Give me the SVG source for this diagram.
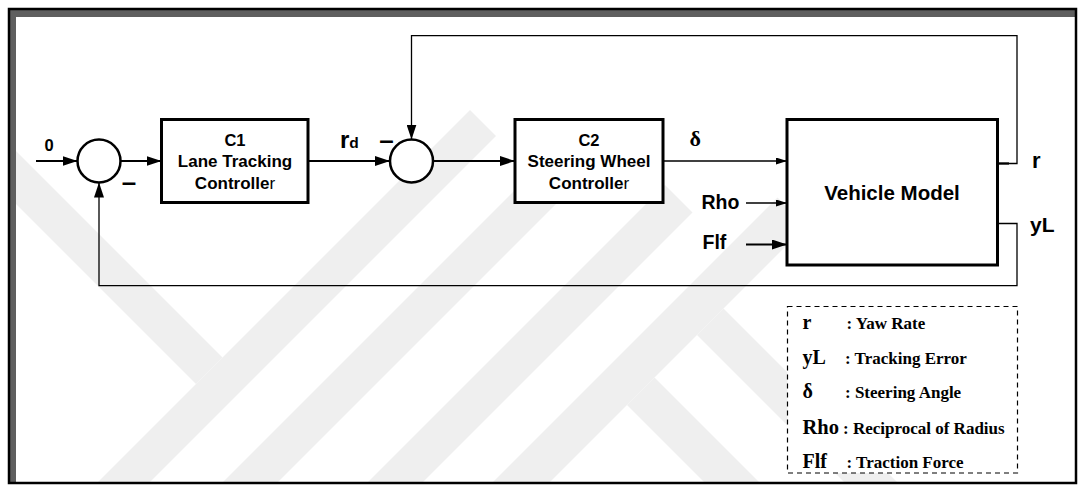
<svg xmlns="http://www.w3.org/2000/svg" width="1080" height="485" viewBox="0 0 1080 485">
<style>
.sans{font-family:"Liberation Sans",Arial,sans-serif;font-weight:bold;fill:#000}
.serif{font-family:"Liberation Serif","Times New Roman",serif;font-weight:bold;fill:#000}
.box{fill:#fff;stroke:#000;stroke-width:3}
.sum{fill:#fff;stroke:#000;stroke-width:2.5}
.wire{fill:none;stroke:#000;stroke-width:2}
.thin{fill:none;stroke:#000;stroke-width:1.3}
.wm{fill:#efefef}
</style>
<defs>
<marker id="ah" markerUnits="userSpaceOnUse" markerWidth="15" markerHeight="10" refX="15" refY="5" orient="auto">
<path d="M0,0 L15,5 L0,10 z" fill="#000"/>
</marker>
<marker id="as" markerUnits="userSpaceOnUse" markerWidth="11" markerHeight="7" refX="11" refY="3.5" orient="auto">
<path d="M0,0 L11,3.5 L0,7 z" fill="#000"/>
</marker>
<clipPath id="inner"><rect x="16" y="17" width="1059" height="465"/></clipPath>
</defs>
<rect x="0" y="0" width="1080" height="485" fill="#fff"/>
<g id="watermark" clip-path="url(#inner)">
<polygon class="wm" points="16,151 222.5,357.5 196,384 16,204"/>
<polygon class="wm" points="470,110 496,136 147,485 95,485"/>
<polygon class="wm" points="552.5,152.5 580,180 275,485 220,485"/>
<polygon class="wm" points="665,185 692.5,212.5 420,485 365,485"/>
<polygon class="wm" points="777.5,197.5 806,226 547,485 490,485"/>
<polygon class="wm" points="654.5,377.5 762,485 707,485 627,405"/>
<polygon class="wm" points="723.5,308.5 900,485 847,485 697,335"/>
</g>
<g id="frame">
<polygon points="9,9 1076,9 1076,17 16,17 16,483 9,483" fill="#5f5f5f"/>
<rect x="9" y="9" width="1067" height="474" fill="none" stroke="#000" stroke-width="2.5"/>
</g>
<g id="connectors">
<line class="wire" x1="36" y1="161" x2="77.5" y2="161" marker-end="url(#ah)"/>
<line class="wire" x1="121" y1="161" x2="161.5" y2="161" marker-end="url(#ah)"/>
<line class="wire" x1="308" y1="161" x2="390" y2="161" marker-end="url(#ah)"/>
<line class="wire" x1="433" y1="161" x2="515" y2="161" marker-end="url(#ah)"/>
<line class="thin" x1="663" y1="161" x2="787" y2="161" marker-end="url(#as)"/>
<line class="thin" x1="746" y1="203" x2="787" y2="203" marker-end="url(#as)"/>
<line class="wire" x1="746" y1="244.5" x2="787" y2="244.5" marker-end="url(#ah)"/>
<path class="thin" d="M998,163.5 H1017 V35.7 H411.5 V139.5" marker-end="url(#ah)"/>
<line x1="998" y1="163.5" x2="1009" y2="163.5" stroke="#000" stroke-width="2.2"/>
<path class="thin" d="M998,223.5 H1017 V285.7 H99 V182.5" marker-end="url(#ah)"/>
</g>
<g id="sum1">
<circle class="sum" cx="99" cy="161" r="21.5"/>
<text class="sans" x="129" y="191" font-size="26" text-anchor="middle">–</text>
</g>
<g id="sum2">
<circle class="sum" cx="411.5" cy="161" r="21.5"/>
<text class="sans" x="386.5" y="148.5" font-size="26" text-anchor="middle">–</text>
</g>
<g id="c1">
<rect class="box" x="161.5" y="119.5" width="146.5" height="83"/>
<text class="sans" x="235" y="145.5" font-size="16.5" text-anchor="middle">C1</text>
<text class="sans" x="235" y="167" font-size="17" text-anchor="middle">Lane Tracking</text>
<text class="sans" x="235" y="188.5" font-size="17" text-anchor="middle">Controlle<tspan font-weight="normal">r</tspan></text>
</g>
<g id="c2">
<rect class="box" x="515" y="119.5" width="148" height="83"/>
<text class="sans" x="589" y="145.5" font-size="16.5" text-anchor="middle">C2</text>
<text class="sans" x="589" y="167" font-size="17" text-anchor="middle">Steering Wheel</text>
<text class="sans" x="589" y="188.5" font-size="17" text-anchor="middle">Controlle<tspan font-weight="normal">r</tspan></text>
</g>
<g id="vehicle">
<rect class="box" x="787" y="119.5" width="210.5" height="145.5"/>
<text class="sans" x="892" y="200" font-size="20.5" text-anchor="middle">Vehicle Model</text>
</g>
<g id="labels">
<text class="sans" x="49" y="150.5" font-size="16.5" text-anchor="middle">0</text>
<text class="sans" x="340" y="147.5" font-size="24">r<tspan font-size="15.5">d</tspan></text>
<text class="serif" x="689.5" y="145.5" font-size="22">δ</text>
<text class="sans" x="701.5" y="209" font-size="19.5">Rho</text>
<text class="sans" x="702.5" y="248.5" font-size="19.5">Flf</text>
<text class="sans" x="1032" y="168" font-size="22">r</text>
<text class="sans" x="1030" y="231.5" font-size="21">yL</text>
</g>
<g id="legend">
<rect x="787.5" y="306.5" width="230" height="166.5" fill="#fff" stroke="#000" stroke-width="1.2" stroke-dasharray="5,4"/>
<text class="serif" x="802.5" y="328.5" font-size="20">r</text>
<text class="serif" x="846.5" y="328.5" font-size="17">: Yaw Rate</text>
<text class="serif" x="802.5" y="363.5" font-size="20">yL</text>
<text class="serif" x="845" y="363.5" font-size="17">: Tracking Error</text>
<text class="serif" x="802.5" y="397.5" font-size="20">δ</text>
<text class="serif" x="845" y="397.5" font-size="17">: Steering Angle</text>
<text class="serif" x="802.5" y="433.5" font-size="20.5">Rho</text>
<text class="serif" x="843" y="433.5" font-size="17">: Reciprocal of Radius</text>
<text class="serif" x="802.5" y="467.5" font-size="20">Flf</text>
<text class="serif" x="846.5" y="467.5" font-size="17">: Traction Force</text>
</g>
</svg>
